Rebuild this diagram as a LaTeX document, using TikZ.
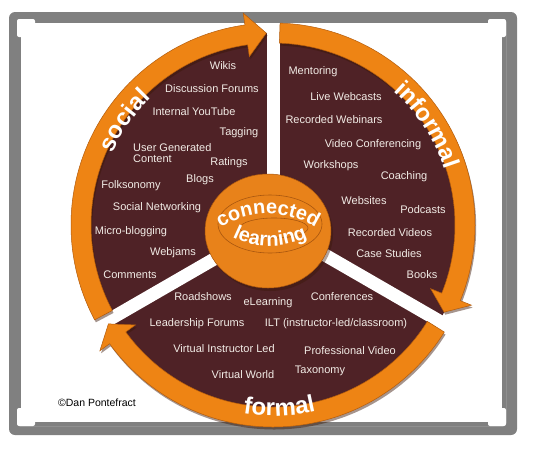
\documentclass[tikz,border=0pt]{standalone}
\usepackage{fontspec}
\setmainfont{Liberation Sans}
\usetikzlibrary{decorations.text,calc}
\definecolor{maroon}{HTML}{4F2226}
\definecolor{ringor}{HTML}{EE8414}
\definecolor{ringdk}{HTML}{B35C0C}
\definecolor{hubor}{HTML}{E8821A}
\definecolor{hubdk}{HTML}{A9560E}
\definecolor{framegray}{HTML}{808080}
\definecolor{itemtxt}{HTML}{F2ECE6}
\definecolor{shadowbr}{HTML}{3A1606}
\newcommand{\ringfont}{\bfseries\fontsize{24}{24}\selectfont}
\newcommand{\hubfont}{\bfseries\fontsize{20}{20}\selectfont}
\newcommand{\arrowring}[4][]{%
  \fill[#1] (#2:202) arc[start angle=#2, end angle=#3, radius=202]
    -- (#3:214) -- (#4:192) -- (#3:170) -- (#3:182)
    arc[start angle=#3, end angle=#2, radius=182] -- cycle;}
\begin{document}
\begin{tikzpicture}[x=1pt,y=-1pt,
  item/.style={text=itemtxt, font=\fontsize{11}{11.5}\selectfont, inner sep=0pt},
  ringfill/.style={fill=ringor, draw=ringdk, line width=0.5},
  ringshadow/.style={fill=shadowbr, opacity=0.45, xshift=1.2pt, yshift=-2.5pt},
  cornerbox/.style={fill=white, rounded corners=2}]
\useasboundingbox (0,0) rectangle (534,450);
% frame
\fill[framegray, rounded corners=6] (9,12) rectangle (517,435);
\fill[white, rounded corners=3] (17,19) rectangle (506,426);
\draw[framegray, line width=4] (19,21) rectangle (504,424);
\fill[cornerbox] (17,19) rectangle (35,37);
\fill[cornerbox] (488,19) rectangle (506,37);
\fill[cornerbox] (17,408) rectangle (35,426);
\fill[cornerbox] (488,408) rectangle (506,426);
% wheel
\begin{scope}[shift={(273,225)}]
  \fill[maroon] (0,0) circle[radius=192];
  \draw[white, line width=13] (0,0) -- (270:202);
  \draw[white, line width=13] (0,0) -- (150:212);
  \draw[white, line width=13] (0,0) -- (30:212);
  \arrowring[ringshadow]{152}{262}{268}
  \arrowring[ringshadow]{272}{382}{387}
  \arrowring[ringshadow]{32}{144}{149}
  \arrowring[ringfill]{152}{262}{268}
  \arrowring[ringfill]{272}{382}{387}
  \arrowring[ringfill]{32}{144}{149}
  % ring labels
  \path[decorate, decoration={text along path, text align=center,
      text={|\ringfont\color{white}|social}}]
    (185:176) arc[start angle=185, end angle=245, radius=176];
  \path[decorate, decoration={text along path, text align=center,
      text={|\ringfont\color{white}|informal}}]
    (292:180) arc[start angle=292, end angle=362, radius=180];
  \path[decorate, decoration={text along path, text align=center,
      text={|\ringfont\color{white}|formal}}]
    (118:191) arc[start angle=118, end angle=58, radius=191];
\end{scope}
% hub
\fill[shadowbr, opacity=0.4] (270,234) ellipse[x radius=63, y radius=57];
\fill[hubor, draw=hubdk, line width=0.5] (268,231) ellipse[x radius=63, y radius=57];
\draw[hubdk, line width=0.6] (270,224) ellipse[x radius=52, y radius=29];
\draw[hubdk, line width=0.6] (274,228) ellipse[x radius=34, y radius=10];
\path[decorate, decoration={text along path, text align=center,
    text={|\hubfont\color{white}|connected}}]
  ($(268,302)+(225:88)$) arc[start angle=225, end angle=315, radius=88];
\path[decorate, decoration={text along path, text align=center,
    text={|\hubfont\color{white}|learning}}]
  ($(270,161)+(125:85)$) arc[start angle=125, end angle=55, radius=85];
% social items
\node[item] (wikis) at (223,66) {Wikis};
\node[item] (discussion) at (212,89) {Discussion Forums};
\node[item] (youtube) at (194,112) {Internal YouTube};
\node[item] (tagging) at (239,133) {Tagging};
\node[item, anchor=west, align=left] (ugc) at (133,153) {User Generated\\Content};
\node[item] (ratings) at (229,163) {Ratings};
\node[item] (blogs) at (200,180) {Blogs};
\node[item] (folksonomy) at (131,186) {Folksonomy};
\node[item] (socialnet) at (157,208) {Social Networking};
\node[item] (micro) at (131,232) {Micro-blogging};
\node[item] (webjams) at (173,253) {Webjams};
\node[item] (comments) at (130,275) {Comments};
% informal items
\node[item] (mentoring) at (313,72) {Mentoring};
\node[item] (webcasts) at (346,97) {Live Webcasts};
\node[item] (webinars) at (334,120) {Recorded Webinars};
\node[item] (videoconf) at (373,145) {Video Conferencing};
\node[item] (workshops) at (331,166) {Workshops};
\node[item] (coaching) at (404,177) {Coaching};
\node[item] (websites) at (364,201) {Websites};
\node[item] (podcasts) at (423,210) {Podcasts};
\node[item] (recvideos) at (390,233) {Recorded Videos};
\node[item] (cases) at (389,254) {Case Studies};
\node[item] (books) at (422,275) {Books};
% formal items
\node[item] (roadshows) at (203,297) {Roadshows};
\node[item] (conferences) at (342,297) {Conferences};
\node[item] (elearning) at (268,303) {eLearning};
\node[item] (leadership) at (197,324) {Leadership Forums};
\node[item] (ilt) at (336,324) {ILT (instructor-led/classroom)};
\node[item] (vil) at (224,349) {Virtual Instructor Led};
\node[item] (profvideo) at (350,351) {Professional Video};
\node[item] (taxonomy) at (320,371) {Taxonomy};
\node[item] (vworld) at (243,375) {Virtual World};
% credit
\node[font=\fontsize{10.5}{12}\selectfont, text=black, inner sep=0pt] (credit) at (97,403) {©Dan Pontefract};
\end{tikzpicture}
\end{document}
